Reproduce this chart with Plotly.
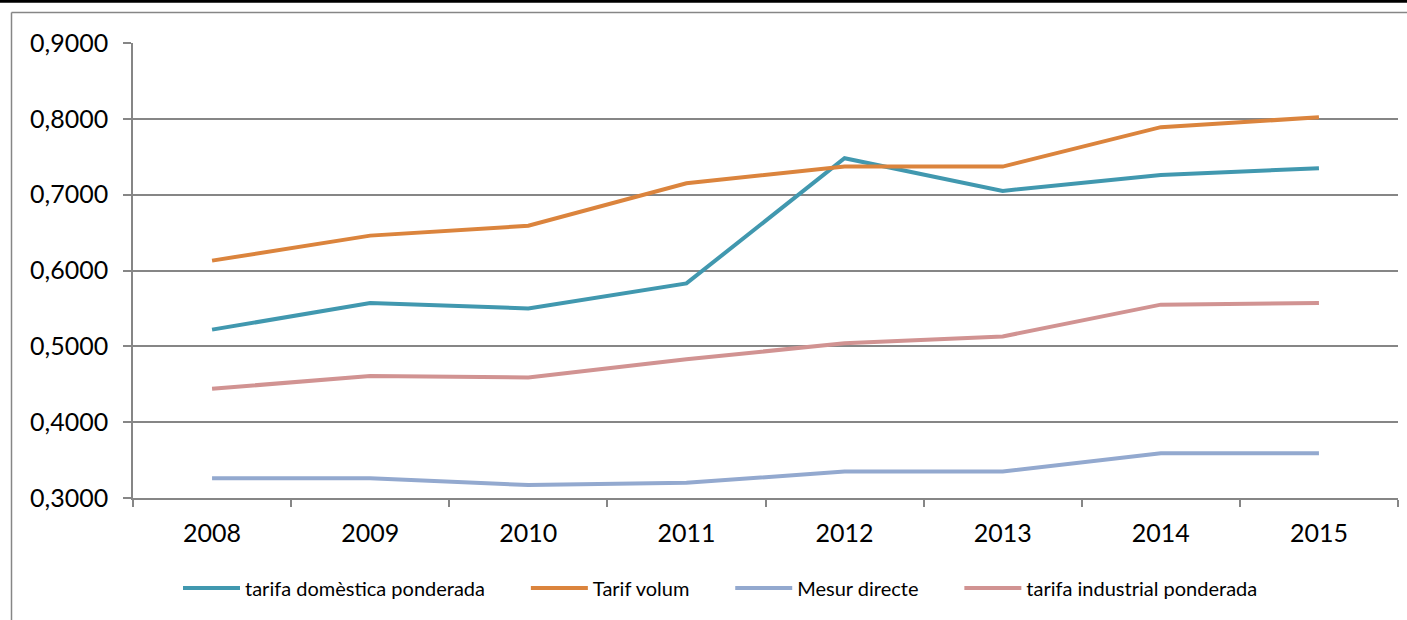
import plotly.graph_objects as go

years = ["2008", "2009", "2010", "2011", "2012", "2013", "2014", "2015"]
domestica = [0.522, 0.557, 0.550, 0.583, 0.748, 0.705, 0.726, 0.735]
tarif_volum = [0.613, 0.646, 0.659, 0.715, 0.737, 0.737, 0.789, 0.802]
mesur_directe = [0.326, 0.326, 0.317, 0.320, 0.335, 0.335, 0.359, 0.359]
industrial = [0.444, 0.461, 0.459, 0.483, 0.504, 0.513, 0.555, 0.557]

series_names = ["tarifa domèstica ponderada", "Tarif volum", "Mesur directe", "tarifa industrial ponderada"]
series_values = [domestica, tarif_volum, mesur_directe, industrial]
colors = ["#4198AF", "#DB843D", "#93A9CF", "#D19392"]

y_ticks = [0.3, 0.4, 0.5, 0.6, 0.7, 0.8, 0.9]
y_tick_text = ["0,3000", "0,4000", "0,5000", "0,6000", "0,7000", "0,8000", "0,9000"]

pad = "\u00a0" * 7

fig = go.Figure()
for i, (name, vals, col) in enumerate(zip(series_names, series_values, colors)):
    label = name + (pad if i < len(series_names) - 1 else "")
    fig.add_trace(go.Scatter(x=years, y=vals, mode="lines", name=label,
                             line=dict(color=col, width=4)))

W, H = 1407, 620
L, R, T, B = 133, 9, 43, 122
pw, ph = W - L - R, H - T - B

def px2x(p):
    return (p - L) / pw

def px2y(p):
    return (H - B - p) / ph

frame = dict(color="#868686", width=1.5)

fig.update_layout(
    width=W, height=H,
    margin=dict(l=L, r=R, t=T, b=B, autoexpand=False),
    paper_bgcolor="white", plot_bgcolor="white",
    font=dict(family="Lato, Carlito, sans-serif", color="black"),
    showlegend=True,
    legend=dict(orientation="h", x=px2x(178), y=px2y(588), xanchor="left", yanchor="middle",
                font=dict(size=20, family="Lato, sans-serif"), bgcolor="rgba(0,0,0,0)",
                traceorder="normal", itemwidth=57),
    xaxis=dict(type="category", tickson="boundaries", ticks="outside", ticklen=7,
               tickcolor="#868686", tickwidth=1.5, showline=True, linecolor="#868686",
               linewidth=1.5, showgrid=False, tickfont=dict(size=25), ticklabelstandoff=12,
               range=[-0.5, 7.5], fixedrange=True, automargin=False),
    yaxis=dict(range=[0.3, 0.9], tickvals=y_ticks, ticktext=y_tick_text, ticks="outside",
               ticklen=8, tickcolor="#868686", tickwidth=1.5, showline=True,
               linecolor="#868686", linewidth=1.5, showgrid=True, gridcolor="#868686",
               gridwidth=1.5, zeroline=False, tickfont=dict(size=25), ticklabelstandoff=10,
               fixedrange=True, automargin=False),
    shapes=[
        dict(type="line", xref="paper", yref="paper", x0=px2x(11.5), x1=px2x(W),
             y0=px2y(12.5), y1=px2y(12.5), line=frame, layer="below"),
        dict(type="line", xref="paper", yref="paper", x0=px2x(11.5), x1=px2x(11.5),
             y0=px2y(12.5), y1=px2y(H), line=frame, layer="below"),
        dict(type="line", xref="paper", yref="paper", x0=px2x(0), x1=px2x(W),
             y0=px2y(1.2), y1=px2y(1.2), line=dict(color="black", width=3)),
    ],
)

fig.write_html("out.html", config={"displayModeBar": False},
               post_script="document.body.style.margin='0';")
